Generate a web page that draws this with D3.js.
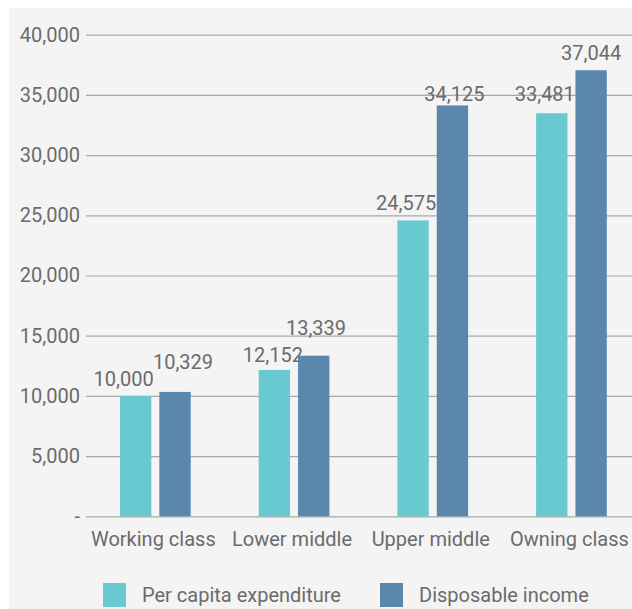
<!DOCTYPE html>
<html>
<head>
<meta charset="utf-8">
<script src="https://cdn.jsdelivr.net/npm/d3@7"></script>
<style>
  html, body { margin: 0; padding: 0; background: #ffffff; }
  svg { display: block; }
  text { font-family: Roboto, "Liberation Sans", sans-serif; fill: #6b6b6b; }
</style>
</head>
<body>
<svg id="chart" width="632" height="609"></svg>
<script>
const categories = ["Working class", "Lower middle", "Upper middle", "Owning class"];
const seriesNames = ["Per capita expenditure", "Disposable income"];
const perCapitaExpenditure = [10000, 12152, 24575, 33481];
const disposableIncome = [10329, 13339, 34125, 37044];
const tickValues = [0, 5000, 10000, 15000, 20000, 25000, 30000, 35000, 40000];

// label nudges (layout only)
const labelNudgeX = [[-12, 8], [-1.5, 2.3], [-7, 2], [-7, 0]];
const labelNudgeY = [[-9.5, -23], [-7.5, -21], [-10.5, -4.5], [-12.5, -10]];

const colors = ["#68c9d1", "#5b87ad"];
const svg = d3.select("#chart");
const W = 632, H = 609;

svg.append("rect").attr("x", 9).attr("y", 8).attr("width", W - 9).attr("height", H - 8).attr("fill", "#f4f4f4");

const plotLeft = 86, plotRight = 640.8, plotTop = 34.7, plotBottom = 516.3;
const y = d3.scaleLinear().domain([0, 40000]).range([plotBottom, plotTop]);
const x0 = d3.scaleBand().domain(categories).range([plotLeft, plotRight]).padding(0);
const groupW = 70.7;
const x1 = d3.scaleBand().domain(seriesNames).range([0, groupW]).paddingInner(0.2036).paddingOuter(0);

// grid lines + tick labels
const yAxis = d3.axisLeft(y).tickValues(tickValues).tickSize(-(W - plotLeft)).tickPadding(6)
  .tickFormat(d => d === 0 ? "-" : d3.format(",")(d));
const gy = svg.append("g").attr("transform", `translate(${plotLeft},0)`).call(yAxis);
gy.select(".domain").remove();
gy.selectAll(".tick line").attr("stroke", "#a8a8a8").attr("stroke-width", 1.2);
gy.selectAll(".tick text").attr("font-size", 20).attr("fill", "#6b6b6b")
  .attr("font-family", "Roboto, 'Liberation Sans', sans-serif").attr("x", -6);

const seriesData = [perCapitaExpenditure, disposableIncome];

const groups = svg.append("g").selectAll("g").data(categories).join("g")
  .attr("transform", d => `translate(${x0(d) + x0.bandwidth() / 2 - groupW / 2},0)`);

groups.each(function (cat, ci) {
  const g = d3.select(this);
  seriesNames.forEach((s, si) => {
    const v = seriesData[si][ci];
    g.append("rect")
      .attr("x", x1(s)).attr("width", x1.bandwidth())
      .attr("y", y(v)).attr("height", y(0) - y(v))
      .attr("fill", colors[si]);
    g.append("text")
      .attr("x", x1(s) + x1.bandwidth() / 2 + labelNudgeX[ci][si])
      .attr("y", y(v) + labelNudgeY[ci][si])
      .attr("text-anchor", "middle").attr("font-size", 20)
      .text(d3.format(",")(v));
  });
});

// category labels
svg.append("g").selectAll("text").data(categories).join("text")
  .attr("x", d => x0(d) + x0.bandwidth() / 2 - 2)
  .attr("y", 546)
  .attr("text-anchor", "middle").attr("font-size", 20)
  .text(d => d);

// legend
const legendX = [103, 380];
const lg = svg.append("g").selectAll("g").data(seriesNames).join("g")
  .attr("transform", (d, i) => `translate(${legendX[i]},583)`);
lg.append("rect").attr("width", 23).attr("height", 24).attr("fill", (d, i) => colors[i]);
lg.append("text").attr("x", 39).attr("y", 19).attr("font-size", 20).text(d => d);
</script>
</body>
</html>
